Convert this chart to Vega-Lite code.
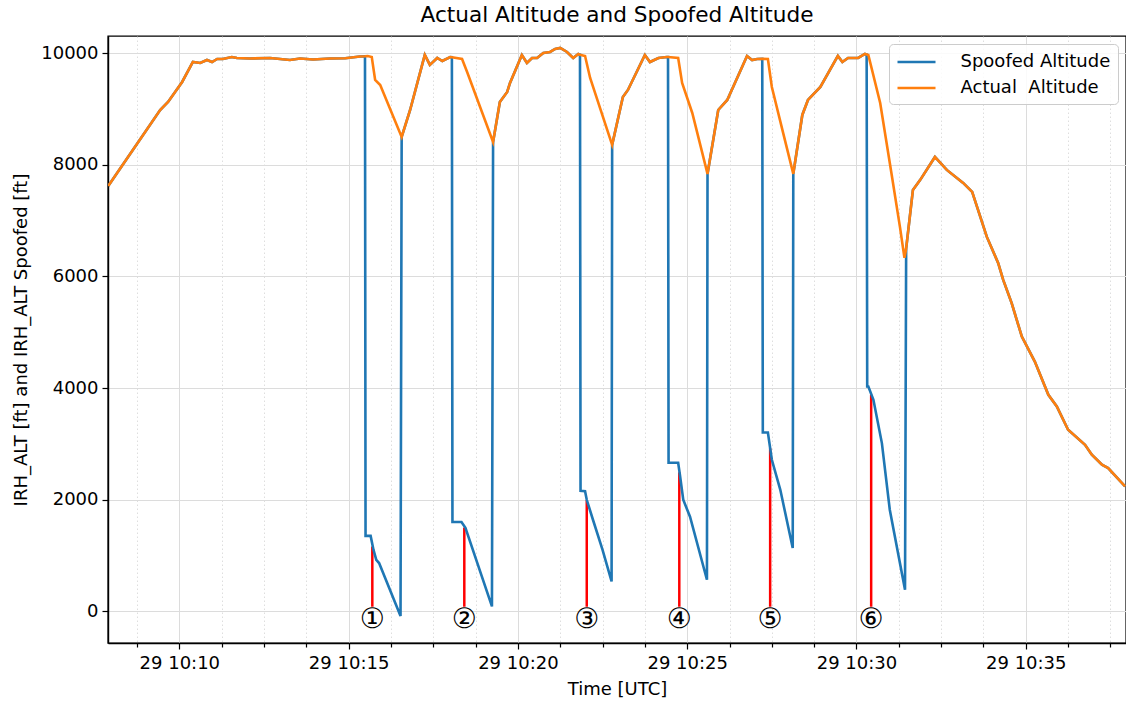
{
  "$schema": "https://vega.github.io/schema/vega-lite/v6.json",
  "autosize": {"type": "none"},
  "padding": {"left": 108, "top": 36, "right": 0, "bottom": 59},
  "width": 1018,
  "height": 607,
  "background": "white",
  "title": {"text": "Actual Altitude and Spoofed Altitude", "fontSize": 21.6, "fontWeight": "normal", "font": "DejaVu Sans", "color": "black", "offset": 9, "anchor": "middle"},
  "config": {
    "font": "DejaVu Sans",
    "view": {"stroke": "black", "strokeWidth": 1.4}
  },
  "datasets": {
    "alt": [
      {"t": "2023-01-29T10:07:54Z", "actual": 7623, "spoofed": 7623},
      {"t": "2023-01-29T10:09:26Z", "actual": 8984, "spoofed": 8984},
      {"t": "2023-01-29T10:09:40Z", "actual": 9128, "spoofed": 9128},
      {"t": "2023-01-29T10:10:05Z", "actual": 9486, "spoofed": 9486},
      {"t": "2023-01-29T10:10:24Z", "actual": 9844, "spoofed": 9844},
      {"t": "2023-01-29T10:10:37Z", "actual": 9826, "spoofed": 9826},
      {"t": "2023-01-29T10:10:49Z", "actual": 9880, "spoofed": 9880},
      {"t": "2023-01-29T10:10:58Z", "actual": 9844, "spoofed": 9844},
      {"t": "2023-01-29T10:11:07Z", "actual": 9898, "spoofed": 9898},
      {"t": "2023-01-29T10:11:17Z", "actual": 9898, "spoofed": 9898},
      {"t": "2023-01-29T10:11:33Z", "actual": 9934, "spoofed": 9934},
      {"t": "2023-01-29T10:11:42Z", "actual": 9916, "spoofed": 9916},
      {"t": "2023-01-29T10:12:05Z", "actual": 9907, "spoofed": 9907},
      {"t": "2023-01-29T10:12:41Z", "actual": 9916, "spoofed": 9916},
      {"t": "2023-01-29T10:13:16Z", "actual": 9880, "spoofed": 9880},
      {"t": "2023-01-29T10:13:34Z", "actual": 9907, "spoofed": 9907},
      {"t": "2023-01-29T10:13:57Z", "actual": 9889, "spoofed": 9889},
      {"t": "2023-01-29T10:14:27Z", "actual": 9907, "spoofed": 9907},
      {"t": "2023-01-29T10:14:54Z", "actual": 9911, "spoofed": 9911},
      {"t": "2023-01-29T10:15:20Z", "actual": 9943, "spoofed": 9943},
      {"t": "2023-01-29T10:15:29Z", "actual": 9947, "spoofed": 9947},
      {"t": "2023-01-29T10:15:30Z", "actual": null, "spoofed": 1350},
      {"t": "2023-01-29T10:15:34Z", "actual": 9952, "spoofed": null},
      {"t": "2023-01-29T10:15:39Z", "actual": null, "spoofed": 1350},
      {"t": "2023-01-29T10:15:41Z", "actual": 9934, "spoofed": null},
      {"t": "2023-01-29T10:15:44Z", "actual": null, "spoofed": 1102},
      {"t": "2023-01-29T10:15:47Z", "actual": 9522, "spoofed": null},
      {"t": "2023-01-29T10:15:49Z", "actual": null, "spoofed": 921},
      {"t": "2023-01-29T10:15:54Z", "actual": null, "spoofed": 863},
      {"t": "2023-01-29T10:15:56Z", "actual": 9432, "spoofed": null},
      {"t": "2023-01-29T10:16:32Z", "actual": null, "spoofed": -85},
      {"t": "2023-01-29T10:16:34Z", "actual": 8500, "spoofed": 8500},
      {"t": "2023-01-29T10:16:49Z", "actual": 8984, "spoofed": 8984},
      {"t": "2023-01-29T10:17:15Z", "actual": 9970, "spoofed": 9970},
      {"t": "2023-01-29T10:17:24Z", "actual": 9791, "spoofed": 9791},
      {"t": "2023-01-29T10:17:37Z", "actual": 9916, "spoofed": 9916},
      {"t": "2023-01-29T10:17:46Z", "actual": 9862, "spoofed": 9862},
      {"t": "2023-01-29T10:18:00Z", "actual": 9934, "spoofed": 9934},
      {"t": "2023-01-29T10:18:03Z", "actual": 9930, "spoofed": 9930},
      {"t": "2023-01-29T10:18:04Z", "actual": null, "spoofed": 1600},
      {"t": "2023-01-29T10:18:20Z", "actual": null, "spoofed": 1600},
      {"t": "2023-01-29T10:18:21Z", "actual": 9898, "spoofed": null},
      {"t": "2023-01-29T10:18:27Z", "actual": null, "spoofed": 1496},
      {"t": "2023-01-29T10:18:30Z", "actual": 9665, "spoofed": null},
      {"t": "2023-01-29T10:19:14Z", "actual": null, "spoofed": 86},
      {"t": "2023-01-29T10:19:16Z", "actual": 8410, "spoofed": 8410},
      {"t": "2023-01-29T10:19:28Z", "actual": 9128, "spoofed": 9128},
      {"t": "2023-01-29T10:19:41Z", "actual": 9307, "spoofed": 9307},
      {"t": "2023-01-29T10:19:46Z", "actual": 9468, "spoofed": 9468},
      {"t": "2023-01-29T10:20:07Z", "actual": 9970, "spoofed": 9970},
      {"t": "2023-01-29T10:20:16Z", "actual": 9826, "spoofed": 9826},
      {"t": "2023-01-29T10:20:25Z", "actual": 9916, "spoofed": 9916},
      {"t": "2023-01-29T10:20:34Z", "actual": 9916, "spoofed": 9916},
      {"t": "2023-01-29T10:20:45Z", "actual": 10006, "spoofed": 10006},
      {"t": "2023-01-29T10:20:57Z", "actual": 10024, "spoofed": 10024},
      {"t": "2023-01-29T10:21:06Z", "actual": 10077, "spoofed": 10077},
      {"t": "2023-01-29T10:21:15Z", "actual": 10095, "spoofed": 10095},
      {"t": "2023-01-29T10:21:27Z", "actual": 10024, "spoofed": 10024},
      {"t": "2023-01-29T10:21:38Z", "actual": 9916, "spoofed": 9916},
      {"t": "2023-01-29T10:21:47Z", "actual": 9988, "spoofed": 9988},
      {"t": "2023-01-29T10:21:50Z", "actual": 9975, "spoofed": 9975},
      {"t": "2023-01-29T10:21:51Z", "actual": null, "spoofed": 2159},
      {"t": "2023-01-29T10:21:59Z", "actual": 9952, "spoofed": 2150},
      {"t": "2023-01-29T10:22:02Z", "actual": null, "spoofed": 1997},
      {"t": "2023-01-29T10:22:08Z", "actual": 9558, "spoofed": null},
      {"t": "2023-01-29T10:22:13Z", "actual": null, "spoofed": 1639},
      {"t": "2023-01-29T10:22:30Z", "actual": null, "spoofed": 1100},
      {"t": "2023-01-29T10:22:46Z", "actual": null, "spoofed": 534},
      {"t": "2023-01-29T10:22:47Z", "actual": 8358, "spoofed": 8358},
      {"t": "2023-01-29T10:23:06Z", "actual": 9217, "spoofed": 9217},
      {"t": "2023-01-29T10:23:15Z", "actual": 9343, "spoofed": 9343},
      {"t": "2023-01-29T10:23:45Z", "actual": 9970, "spoofed": 9970},
      {"t": "2023-01-29T10:23:54Z", "actual": 9844, "spoofed": 9844},
      {"t": "2023-01-29T10:24:09Z", "actual": 9916, "spoofed": 9916},
      {"t": "2023-01-29T10:24:24Z", "actual": 9934, "spoofed": 9934},
      {"t": "2023-01-29T10:24:26Z", "actual": 9934, "spoofed": 9934},
      {"t": "2023-01-29T10:24:27Z", "actual": null, "spoofed": 2660},
      {"t": "2023-01-29T10:24:44Z", "actual": 9916, "spoofed": 2660},
      {"t": "2023-01-29T10:24:47Z", "actual": null, "spoofed": 2450},
      {"t": "2023-01-29T10:24:51Z", "actual": 9468, "spoofed": null},
      {"t": "2023-01-29T10:24:53Z", "actual": null, "spoofed": 1997},
      {"t": "2023-01-29T10:25:05Z", "actual": null, "spoofed": 1693},
      {"t": "2023-01-29T10:25:09Z", "actual": 8930, "spoofed": null},
      {"t": "2023-01-29T10:25:35Z", "actual": null, "spoofed": 564},
      {"t": "2023-01-29T10:25:36Z", "actual": 7838, "spoofed": 7838},
      {"t": "2023-01-29T10:25:55Z", "actual": 8984, "spoofed": 8984},
      {"t": "2023-01-29T10:26:11Z", "actual": 9164, "spoofed": 9164},
      {"t": "2023-01-29T10:26:46Z", "actual": 9952, "spoofed": 9952},
      {"t": "2023-01-29T10:26:55Z", "actual": 9880, "spoofed": 9880},
      {"t": "2023-01-29T10:27:04Z", "actual": 9898, "spoofed": 9898},
      {"t": "2023-01-29T10:27:13Z", "actual": 9900, "spoofed": 9900},
      {"t": "2023-01-29T10:27:14Z", "actual": null, "spoofed": 3203},
      {"t": "2023-01-29T10:27:23Z", "actual": 9898, "spoofed": 3203},
      {"t": "2023-01-29T10:27:30Z", "actual": 9397, "spoofed": 2714},
      {"t": "2023-01-29T10:27:45Z", "actual": null, "spoofed": 2176},
      {"t": "2023-01-29T10:27:50Z", "actual": 8573, "spoofed": null},
      {"t": "2023-01-29T10:28:07Z", "actual": null, "spoofed": 1132},
      {"t": "2023-01-29T10:28:08Z", "actual": 7838, "spoofed": 7838},
      {"t": "2023-01-29T10:28:24Z", "actual": 8895, "spoofed": 8895},
      {"t": "2023-01-29T10:28:34Z", "actual": 9164, "spoofed": 9164},
      {"t": "2023-01-29T10:28:56Z", "actual": 9397, "spoofed": 9397},
      {"t": "2023-01-29T10:29:27Z", "actual": 9952, "spoofed": 9952},
      {"t": "2023-01-29T10:29:35Z", "actual": 9844, "spoofed": 9844},
      {"t": "2023-01-29T10:29:45Z", "actual": 9916, "spoofed": 9916},
      {"t": "2023-01-29T10:30:03Z", "actual": 9916, "spoofed": 9916},
      {"t": "2023-01-29T10:30:15Z", "actual": 9988, "spoofed": 9988},
      {"t": "2023-01-29T10:30:18Z", "actual": 9980, "spoofed": 9980},
      {"t": "2023-01-29T10:30:19Z", "actual": null, "spoofed": 4027},
      {"t": "2023-01-29T10:30:21Z", "actual": 9970, "spoofed": 4027},
      {"t": "2023-01-29T10:30:30Z", "actual": null, "spoofed": 3789},
      {"t": "2023-01-29T10:30:42Z", "actual": 9110, "spoofed": null},
      {"t": "2023-01-29T10:30:45Z", "actual": null, "spoofed": 3013},
      {"t": "2023-01-29T10:30:59Z", "actual": null, "spoofed": 1818},
      {"t": "2023-01-29T10:31:03Z", "actual": 7784, "spoofed": null},
      {"t": "2023-01-29T10:31:17Z", "actual": 6888, "spoofed": null},
      {"t": "2023-01-29T10:31:25Z", "actual": 6333, "spoofed": null},
      {"t": "2023-01-29T10:31:26Z", "actual": null, "spoofed": 385},
      {"t": "2023-01-29T10:31:28Z", "actual": 6500, "spoofed": 6500},
      {"t": "2023-01-29T10:31:40Z", "actual": 7552, "spoofed": 7552},
      {"t": "2023-01-29T10:31:53Z", "actual": 7731, "spoofed": 7731},
      {"t": "2023-01-29T10:32:19Z", "actual": 8142, "spoofed": 8142},
      {"t": "2023-01-29T10:32:40Z", "actual": 7910, "spoofed": 7910},
      {"t": "2023-01-29T10:33:09Z", "actual": 7677, "spoofed": 7677},
      {"t": "2023-01-29T10:33:25Z", "actual": 7516, "spoofed": 7516},
      {"t": "2023-01-29T10:33:51Z", "actual": 6709, "spoofed": 6709},
      {"t": "2023-01-29T10:34:11Z", "actual": 6243, "spoofed": 6243},
      {"t": "2023-01-29T10:34:20Z", "actual": 5939, "spoofed": 5939},
      {"t": "2023-01-29T10:34:35Z", "actual": 5521, "spoofed": 5521},
      {"t": "2023-01-29T10:34:53Z", "actual": 4923, "spoofed": 4923},
      {"t": "2023-01-29T10:35:16Z", "actual": 4475, "spoofed": 4475},
      {"t": "2023-01-29T10:35:40Z", "actual": 3879, "spoofed": 3879},
      {"t": "2023-01-29T10:35:55Z", "actual": 3669, "spoofed": 3669},
      {"t": "2023-01-29T10:36:15Z", "actual": 3252, "spoofed": 3252},
      {"t": "2023-01-29T10:36:45Z", "actual": 2983, "spoofed": 2983},
      {"t": "2023-01-29T10:36:57Z", "actual": 2804, "spoofed": 2804},
      {"t": "2023-01-29T10:37:15Z", "actual": 2625, "spoofed": 2625},
      {"t": "2023-01-29T10:37:26Z", "actual": 2566, "spoofed": 2566},
      {"t": "2023-01-29T10:37:56Z", "actual": 2236, "spoofed": 2236}
    ],
    "events": [
      {"t": "2023-01-29T10:15:42Z", "lo": 80, "hi": 1160, "n": "①"},
      {"t": "2023-01-29T10:18:25Z", "lo": 80, "hi": 1500, "n": "②"},
      {"t": "2023-01-29T10:22:02Z", "lo": 80, "hi": 1990, "n": "③"},
      {"t": "2023-01-29T10:24:46Z", "lo": 80, "hi": 2490, "n": "④"},
      {"t": "2023-01-29T10:27:27Z", "lo": 80, "hi": 2920, "n": "⑤"},
      {"t": "2023-01-29T10:30:26Z", "lo": 80, "hi": 3880, "n": "⑥"}
    ]
  },
  "layer": [
    {
      "data": {"name": "events"},
      "mark": {"type": "rule", "color": "#ff0000", "strokeWidth": 2.5, "clip": true},
      "encoding": {
        "x": {"field": "t", "type": "temporal",
          "scale": {"type": "utc", "domain": [1674986873600, 1674988677600], "nice": false},
          "axis": {"orient": "bottom", "title": "Time [UTC]", "titleFontSize": 18, "titleFontWeight": "normal", "titleColor": "black", "titleFont": "DejaVu Sans", "titlePadding": 8,
            "values": [1674986925000, 1674987000000, 1674987075000, 1674987150000, 1674987225000, 1674987300000, 1674987375000, 1674987450000, 1674987525000, 1674987600000, 1674987675000, 1674987750000, 1674987825000, 1674987900000, 1674987975000, 1674988050000, 1674988125000, 1674988200000, 1674988275000, 1674988350000, 1674988425000, 1674988500000, 1674988575000, 1674988650000],
            "format": "%d %H:%M",
            "labelExpr": "(utcminutes(datum.value) % 5 == 0 && utcseconds(datum.value) == 0) ? datum.label : ''",
            "labelFontSize": 18, "labelColor": "black", "labelFont": "DejaVu Sans", "labelPadding": 5, "labelFlush": false, "labelOverlap": false,
            "tickSize": {"condition": {"test": "utcminutes(datum.value) % 5 == 0 && utcseconds(datum.value) == 0", "value": 6}, "value": 4},
            "tickWidth": 1.2, "tickColor": "black",
            "grid": true,
            "gridColor": {"condition": {"test": "utcminutes(datum.value) % 5 == 0 && utcseconds(datum.value) == 0", "value": "#dcdcdc"}, "value": "#d6d6d6"},
            "gridDash": {"condition": {"test": "utcminutes(datum.value) % 5 == 0 && utcseconds(datum.value) == 0", "value": []}, "value": [1.5, 2.5]},
            "gridWidth": {"condition": {"test": "utcminutes(datum.value) % 5 == 0 && utcseconds(datum.value) == 0", "value": 1}, "value": 0.8},
            "domain": true, "domainColor": "black", "domainWidth": 1.4}},
        "y": {"field": "hi", "type": "quantitative",
          "scale": {"domain": [-570, 10310], "nice": false, "zero": false},
          "axis": {"orient": "left", "title": "IRH_ALT [ft] and IRH_ALT Spoofed [ft]", "titleFontSize": 18, "titleFontWeight": "normal", "titleColor": "black", "titleFont": "DejaVu Sans", "titlePadding": 10,
            "values": [0, 2000, 4000, 6000, 8000, 10000],
            "format": "d",
            "labelFontSize": 18, "labelColor": "black", "labelFont": "DejaVu Sans", "labelPadding": 4, "labelOverlap": false, "labelFlush": false,
            "tickSize": 6, "tickWidth": 1.2, "tickColor": "black",
            "grid": true, "gridColor": "#dcdcdc", "gridWidth": 1,
            "domain": true, "domainColor": "black", "domainWidth": 1.4}},
        "y2": {"field": "lo"}
      }
    },
    {
      "data": {"name": "alt"},
      "transform": [{"fold": ["spoofed"], "as": ["series", "alt"]}, {"filter": "isValid(datum.alt)"}],
      "mark": {"type": "line", "strokeWidth": 2.6, "clip": true},
      "encoding": {
        "x": {"field": "t", "type": "temporal"},
        "y": {"field": "alt", "type": "quantitative"},
        "color": {"field": "series", "type": "nominal",
          "scale": {"domain": ["spoofed", "actual"], "range": ["#1f77b4", "#ff7f0e"]},
          "legend": {"title": null, "orient": "top-right", "offset": 8, "fillColor": "rgba(255,255,255,0.85)", "strokeColor": "#cccccc", "cornerRadius": 4, "padding": 7,
            "symbolType": "M-2,0H2", "symbolSize": 361, "symbolStrokeWidth": 2.6, "symbolOffset": 9.5, "labelFontSize": 18, "labelFont": "DejaVu Sans", "labelColor": "black", "labelOffset": 33, "rowPadding": 6, "labelLimit": 400,
            "labelExpr": "datum.label == 'actual' ? '\u00a0\u00a0\u00a0Actual\u00a0\u00a0Altitude' : 'Spoofed Altitude'"}}
      }
    },
    {
      "data": {"name": "alt"},
      "transform": [{"fold": ["actual"], "as": ["series", "alt"]}, {"filter": "isValid(datum.alt)"}],
      "mark": {"type": "line", "strokeWidth": 2.6, "clip": true},
      "encoding": {
        "x": {"field": "t", "type": "temporal"},
        "y": {"field": "alt", "type": "quantitative"},
        "color": {"field": "series", "type": "nominal"}
      }
    },
    {
      "data": {"name": "events"},
      "mark": {"type": "text", "fontSize": 28, "font": "DejaVu Sans", "align": "center", "baseline": "middle", "color": "black", "dy": 13},
      "encoding": {
        "x": {"field": "t", "type": "temporal"},
        "y": {"field": "lo", "type": "quantitative"},
        "text": {"field": "n"}
      }
    }
  ]
}
